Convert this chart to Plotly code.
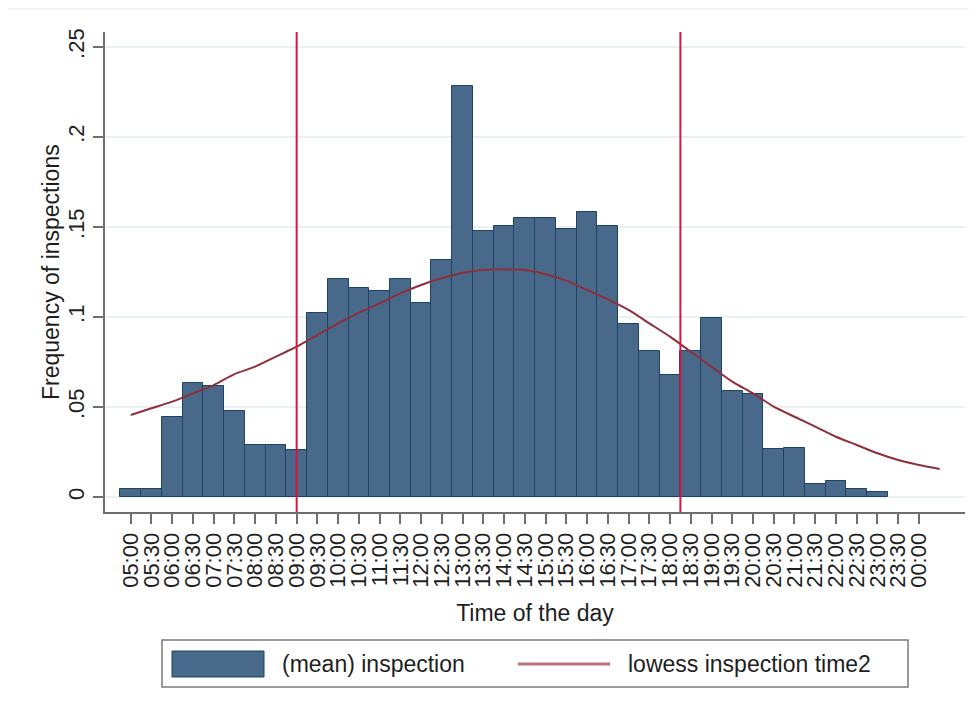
"""
Frequency of inspections by time of the day, with lowess fit
"""
import plotly.graph_objects as go

# ---- data -------------------------------------------------------------
TICK_LABELS = ['05:00', '05:30', '06:00', '06:30', '07:00', '07:30', '08:00', '08:30',
               '09:00', '09:30', '10:00', '10:30', '11:00', '11:30', '12:00', '12:30',
               '13:00', '13:30', '14:00', '14:30', '15:00', '15:30', '16:00', '16:30',
               '17:00', '17:30', '18:00', '18:30', '19:00', '19:30', '20:00', '20:30',
               '21:00', '21:30', '22:00', '22:30', '23:00', '23:30', '00:00']

BAR_TIMES = TICK_LABELS[:37]  # 05:00 .. 23:00
BAR_VALUES = [0.0045, 0.0045, 0.0445, 0.0635, 0.0615, 0.048, 0.029, 0.029,
              0.026, 0.1025, 0.121, 0.116, 0.1145, 0.121, 0.108, 0.1315,
              0.2285, 0.1475, 0.1505, 0.155, 0.155, 0.149, 0.1585, 0.1505,
              0.096, 0.081, 0.068, 0.081, 0.0995, 0.059, 0.057, 0.0265,
              0.0275, 0.007, 0.009, 0.0045, 0.003]

LOWESS_TIMES = TICK_LABELS + ['00:30']
LOWESS_VALUES = [0.0456, 0.0493, 0.053, 0.0576, 0.0622, 0.0683, 0.0724, 0.078,
                 0.0835, 0.09, 0.0965, 0.1024, 0.1076, 0.1131, 0.1178, 0.1215,
                 0.1246, 0.1261, 0.1265, 0.1261, 0.1238, 0.1202, 0.115, 0.1098,
                 0.1039, 0.0965, 0.0891, 0.0807, 0.0724, 0.0641, 0.0576, 0.0502,
                 0.0446, 0.0391, 0.0335, 0.0289, 0.0243, 0.0206, 0.0178, 0.0156]

REF_TIMES = ['09:00', '18:15']

Y_TICKS = [0, 0.05, 0.1, 0.15, 0.2, 0.25]
Y_TICK_TEXT = ['0', '.05', '.1', '.15', '.2', '.25']

COLORS = {
    'bar': '#49698b',
    'bar_edge': '#1c4268',
    'lowess': '#8f2f3a',
    'lowess_key': '#b8727c',
    'ref': '#d3173f',
    'grid': '#e9f1f2',
    'axis': '#6e6e6e',
    'text': '#1e1e1e',
}
FONT = 'Liberation Sans, Arial, sans-serif'


def to_hours(t):
    """'HH:MM' -> hours, with 00:xx treated as past midnight"""
    h, m = (int(p) for p in t.split(':'))
    if h < 5:
        h += 24
    return h + m / 60


# the page body has an 8px margin, so the figure is sized to sit inside it
OFF = 8
W, H = 977 - 2 * OFF, 715 - 2 * OFF
# plot area in page pixels (used for the hand-drawn Stata-style legend)
L, R, T, B = 105, 965, 32, 512


def px(x):
    return (x - L) / (R - L)


def py(y):
    return (B - y) / (B - T)


fig = go.Figure()

fig.add_trace(go.Bar(
    x=[to_hours(t) for t in BAR_TIMES],
    y=BAR_VALUES,
    width=0.5,
    marker=dict(color=COLORS['bar'], line=dict(color=COLORS['bar_edge'], width=1)),
    name='(mean) inspection',
    showlegend=False,
))

fig.add_trace(go.Scatter(
    x=[to_hours(t) for t in LOWESS_TIMES],
    y=LOWESS_VALUES,
    mode='lines',
    line=dict(color=COLORS['lowess'], width=2, shape='spline', smoothing=0.6),
    name='lowess inspection time2',
    showlegend=False,
))

shapes = [
    dict(type='line', xref='x', yref='paper', x0=to_hours(t), x1=to_hours(t), y0=0, y1=1,
         line=dict(color=COLORS['ref'], width=2), layer='above')
    for t in REF_TIMES
]
# legend box, drawn like Stata's
shapes += [
    dict(type='rect', xref='paper', yref='paper',
         x0=px(162), x1=px(908), y0=py(687), y1=py(640),
         line=dict(color='#7a7a7a', width=1.5), fillcolor='white', layer='above'),
    dict(type='rect', xref='paper', yref='paper',
         x0=px(172), x1=px(264), y0=py(677), y1=py(651),
         line=dict(color=COLORS['bar_edge'], width=1), fillcolor=COLORS['bar'], layer='above'),
    dict(type='line', xref='paper', yref='paper',
         x0=px(518), x1=px(610), y0=py(664), y1=py(664),
         line=dict(color=COLORS['lowess_key'], width=3), layer='above'),
    # faint frame line at the very top of the graph region
    dict(type='line', xref='paper', yref='paper',
         x0=px(8), x1=px(969), y0=py(8.5), y1=py(8.5),
         line=dict(color='#edf2f2', width=2)),
]
annotations = [
    dict(text='(mean) inspection', xref='paper', yref='paper', x=px(280), y=py(664),
         xanchor='left', yanchor='middle', showarrow=False,
         font=dict(size=23, color=COLORS['text'], family=FONT)),
    dict(text='lowess inspection time2', xref='paper', yref='paper', x=px(626), y=py(664),
         xanchor='left', yanchor='middle', showarrow=False,
         font=dict(size=23, color=COLORS['text'], family=FONT)),
    dict(text='Frequency of inspections', xref='paper', yref='paper', x=px(51), y=0.5,
         xanchor='center', yanchor='middle', textangle=-90, showarrow=False,
         font=dict(size=23, color=COLORS['text'], family=FONT)),
]

fig.update_layout(
    width=W,
    height=H,
    plot_bgcolor='white',
    paper_bgcolor='white',
    font=dict(family=FONT, color=COLORS['text'], size=22),
    margin=dict(l=L - OFF, r=W - (R - OFF), t=T - OFF, b=H - (B - OFF)),
    bargap=0,
    shapes=shapes,
    annotations=annotations,
    xaxis=dict(
        range=[4.38, 25.11],
        tickvals=[to_hours(t) for t in TICK_LABELS],
        ticktext=TICK_LABELS,
        tickangle=-90,
        tickfont=dict(size=22),
        ticks='outside', ticklen=10, tickwidth=1.5, tickcolor=COLORS['axis'],
        showline=True, linecolor=COLORS['axis'], linewidth=2,
        showgrid=False, zeroline=False,
        title=dict(text='Time of the day', font=dict(size=23), standoff=18),
    ),
    yaxis=dict(
        range=[-0.0083, 0.2583],
        tickvals=Y_TICKS,
        ticktext=Y_TICK_TEXT,
        tickangle=-90,
        tickfont=dict(size=22),
        ticks='outside', ticklen=10, tickwidth=1.5, tickcolor=COLORS['axis'],
        showline=True, linecolor=COLORS['axis'], linewidth=2,
        showgrid=True, gridcolor=COLORS['grid'], gridwidth=1.5,
        zeroline=False,
    ),
)

fig.write_html('out.html')
